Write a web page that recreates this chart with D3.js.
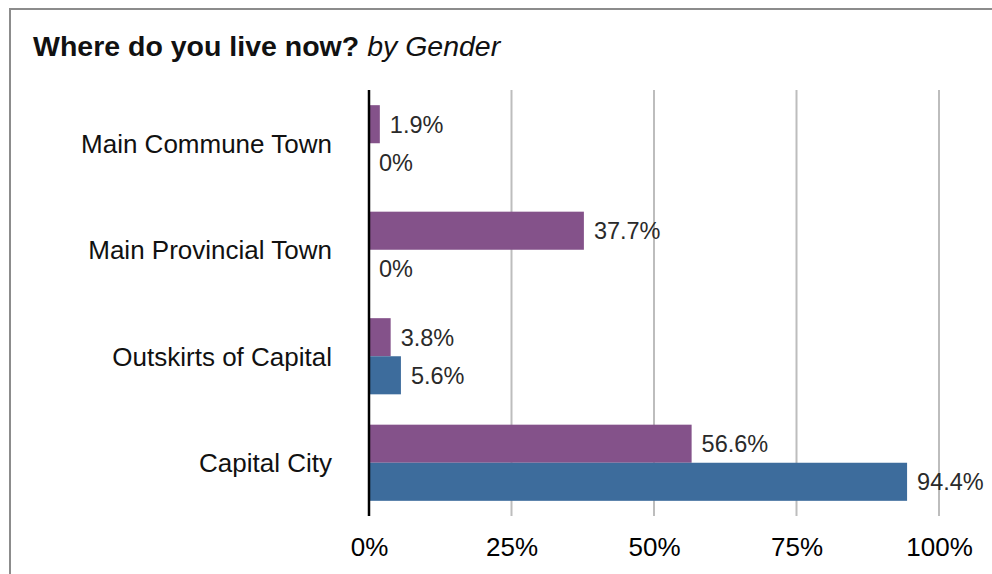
<!DOCTYPE html>
<html><head><meta charset="utf-8">
<script src="https://cdn.jsdelivr.net/npm/d3@7"></script>
<style>
html,body{margin:0;padding:0;background:#fff;}
svg{display:block;}
text{font-family:"Liberation Sans",Arial,sans-serif;}
</style></head>
<body>
<svg id="chart" width="992" height="574"></svg>
<script>
const categories = ["Main Commune Town","Main Provincial Town","Outskirts of Capital","Capital City"];
const seriesNames = ["Female","Male"];
const femaleValues = [1.9, 37.7, 3.8, 56.6];
const maleValues = [0, 0, 5.6, 94.4];
const tickValues = [0, 25, 50, 75, 100];
const tickLabels = ["0%","25%","50%","75%","100%"];
const colors = ["#84528a","#3d6c9c"];

const svg = d3.select("#chart");
// frame
svg.append("rect").attr("x",10).attr("y",9).attr("width",1000).attr("height",600)
  .attr("fill","none").attr("stroke","#8c8c8c").attr("stroke-width",2);

svg.append("text").attr("x",33).attr("y",56).attr("font-size",28.5).attr("fill","#111")
  .call(t=>{
    t.append("tspan").attr("font-weight","bold").text("Where do you live now? ");
    t.append("tspan").attr("font-style","italic").text("by Gender");
  });

const x = d3.scaleLinear().domain([0,100]).range([369,939]);
const y = d3.scaleBand().domain(categories).range([90,516]).paddingInner(0.285).paddingOuter(0.1425);
const ys = d3.scaleBand().domain(seriesNames).range([0,y.bandwidth()]);

// gridlines
svg.append("g").selectAll("line").data(tickValues.filter(d=>d>0)).join("line")
  .attr("x1",d=>x(d)).attr("x2",d=>x(d)).attr("y1",90).attr("y2",516)
  .attr("stroke","#bdbdbd").attr("stroke-width",2);

const rows = categories.map((c,i)=>({cat:c, vals:[femaleValues[i], maleValues[i]]}));
const g = svg.append("g");
rows.forEach(r=>{
  r.vals.forEach((v,j)=>{
    const yy = y(r.cat)+ys(seriesNames[j]);
    if (v>0) g.append("rect").attr("x",x(0)).attr("y",yy).attr("width",x(v)-x(0)).attr("height",ys.bandwidth()).attr("fill",colors[j]);
    g.append("text").attr("x",x(v)+10).attr("y",yy+ys.bandwidth()/2).attr("dy","0.36em")
      .attr("font-size",23.5).attr("fill","#2a2a2a").text((Number.isInteger(v)?v:v.toFixed(1))+"%");
  });
});

// zero line
svg.append("line").attr("x1",x(0)).attr("x2",x(0)).attr("y1",90).attr("y2",516).attr("stroke","#000").attr("stroke-width",2.5);

// category labels
svg.append("g").selectAll("text").data(categories).join("text")
  .attr("x",332).attr("y",d=>y(d)+y.bandwidth()/2).attr("dy","0.36em").attr("text-anchor","end")
  .attr("font-size",26).attr("fill","#111").text(d=>d);

// x tick labels
const axis = d3.axisBottom(x).tickValues(tickValues).tickFormat((d,i)=>tickLabels[i]).tickSize(0).tickPadding(0);
const ag = svg.append("g").attr("transform","translate(0,538)").call(axis);
ag.select(".domain").remove();
ag.selectAll("text").attr("font-size",26).attr("fill","#000").attr("font-family","Liberation Sans, Arial, sans-serif");
</script>
</body></html>
